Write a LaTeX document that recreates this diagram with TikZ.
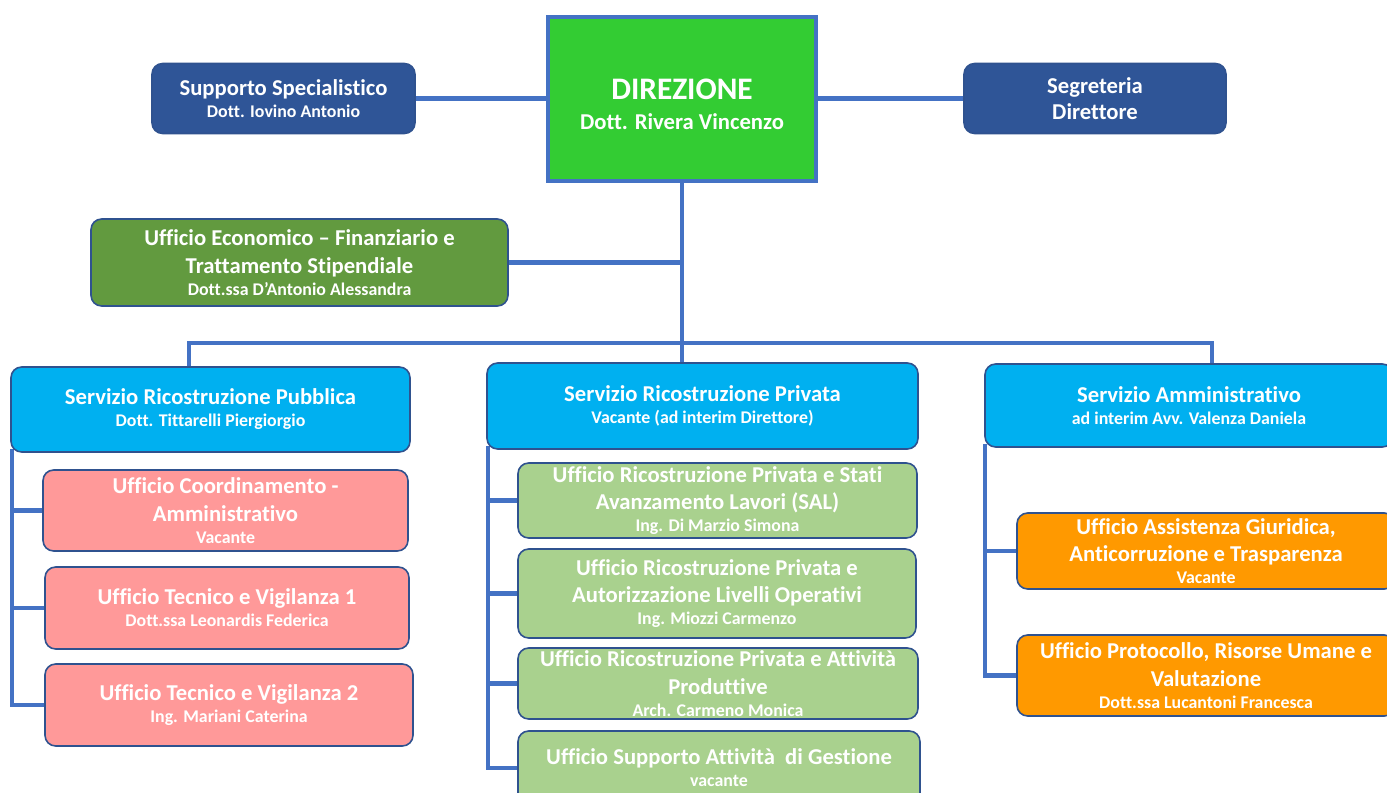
\documentclass[tikz,border=0pt]{standalone}
\usepackage{fontspec}
\setmainfont{Carlito}[Ligatures=NoCommon]
\usetikzlibrary{backgrounds}
\definecolor{connc}{HTML}{4472C4}
\definecolor{dkblue}{HTML}{2F5597}
\definecolor{bord}{HTML}{2F528F}
\definecolor{dirgreen}{HTML}{33CC33}
\definecolor{ecogreen}{HTML}{629A3F}
\definecolor{srvblue}{HTML}{00B0F0}
\definecolor{ufpink}{HTML}{FF9999}
\definecolor{ltgreen}{HTML}{A9D18E}
\definecolor{orng}{HTML}{FF9900}
\newcommand\ttl{\fontsize{17}{20.5}\selectfont\bfseries}
\newcommand\sbt[1]{{\fontsize{13.4}{16}\selectfont #1}}
\begin{document}
\begin{tikzpicture}[x=0.75pt,y=-0.75pt,
  box/.style={draw=bord,line width=1.2pt,rounded corners=8pt,inner sep=0pt,align=center,text=white,font=\ttl},
  conn/.style={draw=connc,line width=3.3pt}]
\useasboundingbox (0,0) rectangle (1387,792);
\clip (0,0) rectangle (1387,792);
% top row
\node[box,fill=dkblue,minimum width=197.25pt,minimum height=52.5pt] (sup) at (283.5,98.5)
  {Supporto Specialistico\\[-4pt]\sbt{Dott. Iovino Antonio}};
\node[draw=connc,line width=3.5pt,fill=dirgreen,minimum width=201pt,minimum height=123pt,inner sep=0pt,align=center,text=white,font=\ttl] (dir) at (682,99)
  {\rule{0pt}{23.5pt}{\fontsize{23.5}{28}\selectfont DIREZIONE}\\[2.5pt]Dott. Rivera Vincenzo};
\node[box,fill=dkblue,minimum width=196.5pt,minimum height=52.5pt] (seg) at (1095,98.5)
  {Segreteria\\[-1pt]Direttore};
\node[box,fill=ecogreen,minimum width=312.75pt,minimum height=65.25pt] (eco) at (299.5,262.5)
  {Ufficio Economico – Finanziario e\\Trattamento Stipendiale\\[-4pt]\sbt{Dott.ssa D’Antonio Alessandra}};
% services
\node[box,fill=srvblue,minimum width=299.25pt,minimum height=63.75pt] (spub) at (210.5,409.5)
  {Servizio Ricostruzione Pubblica\\[-4pt]\sbt{Dott. Tittarelli Piergiorgio}};
\node[box,fill=srvblue,minimum width=323.25pt,minimum height=64.5pt] (spriv) at (702.5,406)
  {Servizio Ricostruzione Privata\\[-4pt]\sbt{Vacante (ad interim Direttore)}};
\node[box,fill=srvblue,minimum width=306pt,minimum height=62.25pt] (samm) at (1189,405.5)
  {Servizio Amministrativo\\[-4pt]\sbt{ad interim Avv. Valenza Daniela}};
% pink offices
\node[box,fill=ufpink,minimum width=273.75pt,minimum height=60.75pt] (p1) at (225.5,510.5)
  {Ufficio Coordinamento -\\Amministrativo\\[-4pt]\sbt{Vacante}};
\node[box,fill=ufpink,minimum width=273pt,minimum height=61.5pt] (p2) at (227,608)
  {Ufficio Tecnico e Vigilanza 1\\[-4pt]\sbt{Dott.ssa Leonardis Federica}};
\node[box,fill=ufpink,minimum width=276pt,minimum height=61.5pt] (p3) at (229,705)
  {Ufficio Tecnico e Vigilanza 2\\[-4pt]\sbt{Ing. Mariani Caterina}};
% green offices
\node[box,fill=ltgreen,minimum width=299.25pt,minimum height=56.25pt] (g1) at (717.5,500.5)
  {Ufficio Ricostruzione Privata e Stati\\Avanzamento Lavori (SAL)\\[-4pt]\sbt{Ing. Di Marzio Simona}};
\node[box,fill=ltgreen,minimum width=298.5pt,minimum height=66.75pt] (g2) at (717,593.5)
  {Ufficio Ricostruzione Privata e\\Autorizzazione Livelli Operativi\\[-4pt]\sbt{Ing. Miozzi Carmenzo}};
\node[box,fill=ltgreen,minimum width=300pt,minimum height=53.25pt] (g3) at (718,683.5)
  {Ufficio Ricostruzione Privata e Attività\\Produttive\\[-4pt]\sbt{Arch. Carmeno Monica}};
\node[box,fill=ltgreen,minimum width=301.5pt,minimum height=55.5pt] (g4) at (719,768)
  {Ufficio Supporto Attività\ \ di Gestione\\[-4pt]\sbt{vacante}};
% orange offices
\node[box,fill=orng,minimum width=283.5pt,minimum height=57pt] (o1) at (1206,551)
  {Ufficio Assistenza Giuridica,\\Anticorruzione e Trasparenza\\[-4pt]\sbt{Vacante}};
\node[box,fill=orng,minimum width=283.5pt,minimum height=60.75pt] (o2) at (1206,675.5)
  {Ufficio Protocollo, Risorse Umane e\\Valutazione\\[-4pt]\sbt{Dott.ssa Lucantoni Francesca}};
% connectors
\begin{scope}[on background layer]
\fill[white] (0,0) rectangle (1387,792);
\coordinate (busy) at (0,343);
\coordinate (bl) at (189,343);
\coordinate (br) at (1212,343);
\draw[conn] (sup.east) -- (sup.east -| dir.west);
\draw[conn] (seg.west -| dir.east) -- (seg.west);
\draw[conn] (dir.south) -- (dir.south |- busy);
\draw[conn] (eco.east) -- (eco.east -| dir.south);
\draw[conn] (bl |- spub.north) -- (bl) -- (br) -- (br |- samm.north);
\draw[conn] (dir.south |- busy) -- (dir.south |- spriv.north);
\coordinate (lb1) at ([shift={(2,-4)}]spub.south west);
\draw[conn] (lb1) |- (p1.west) (lb1) |- (p2.west) (lb1) |- (p3.west);
\coordinate (lb2) at ([shift={(2,-4)}]spriv.south west);
\draw[conn] (lb2) |- (g1.west) (lb2) |- (g2.west) (lb2) |- (g3.west) (lb2) |- (g4.west);
\coordinate (lb3) at ([shift={(1,-4)}]samm.south west);
\draw[conn] (lb3) |- (o1.west) (lb3) |- (o2.west);
\end{scope}
\end{tikzpicture}
\end{document}
